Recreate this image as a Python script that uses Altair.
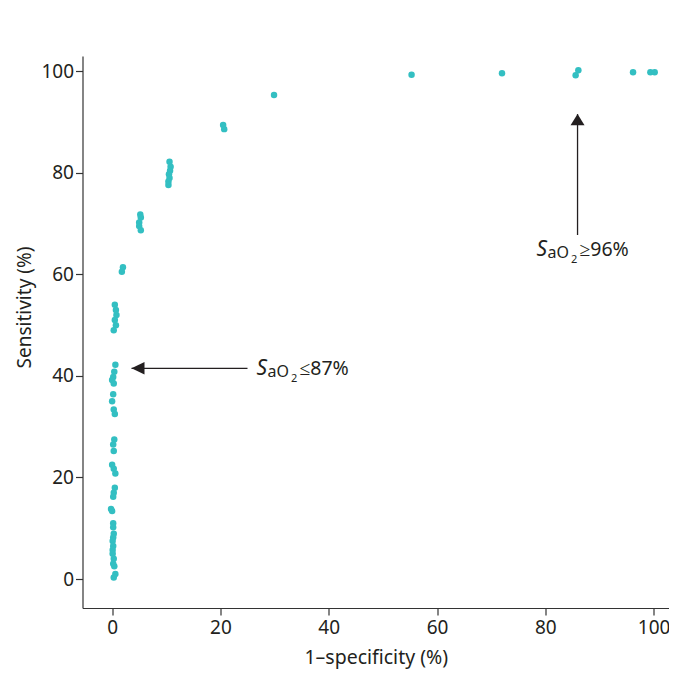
import altair as alt
import pandas as pd

# 1-specificity (%) and sensitivity (%) of each threshold point
fpr = [0.5, 0.7, 0.8, 0.5, 0.7, 0.3,
       0.6, 0.4, 0.2, 0.0, 0.3,
       0.2, 0.0, 0.3, 0.5,
       0.4, 0.2, 0.3,
       0.0, 0.3, 0.6,
       0.5, 0.3, 0.2,
       -0.2, 0.0,
       0.2, 0.2, 0.3, 0.2, 0.1, 0.2, 0.1, 0.1, 0.3, 0.2, 0.4, 0.6, 0.3,
       2.0, 1.8,
       5.2, 5.3, 5.0, 5.0, 5.3,
       10.6, 10.8, 10.7, 10.5, 10.6, 10.4, 10.4,
       20.5, 20.7,
       29.9,
       55.3,
       72.0,
       85.6, 86.1,
       96.2,
       99.4, 100.2]
sens = [54.0, 53.0, 52.0, 51.0, 50.0, 49.0,
        42.2, 40.8, 39.8, 39.2, 38.5,
        36.4, 35.0, 33.4, 32.5,
        27.5, 26.5, 25.2,
        22.5, 21.7, 20.8,
        18.0, 17.0, 16.2,
        13.8, 13.4,
        11.0, 10.2, 8.9, 8.2, 7.5, 6.5, 5.7, 5.0, 4.0, 3.0, 2.5, 1.0, 0.3,
        61.4, 60.5,
        71.8, 71.2, 70.2, 69.5, 68.7,
        82.2, 81.2, 80.4, 79.7, 79.0, 78.3, 77.6,
        89.4, 88.6,
        95.3,
        99.3,
        99.6,
        99.2, 100.2,
        99.8,
        99.8, 99.8]

ticks = [0, 20, 40, 60, 80, 100]

# arrows: tail and tip
arrow_x = [25.0, 85.95]
arrow_y = [41.5, 67.75]
arrow_tip_x = [3.58, 85.95]
arrow_tip_y = [41.5, 91.56]

# annotation labels
ann_x = [26.67, 78.38]
ann_y = [40.2, 63.6]
ann_rest = ["≤87%", "≥96%"]

FONT = "Noto Sans"
TEAL = "#33BFC2"
INK = "#231F20"

df = pd.DataFrame({"fpr": fpr, "sens": sens})
arrows = pd.DataFrame({"x": arrow_x, "y": arrow_y, "x2": arrow_tip_x, "y2": arrow_tip_y})
ann = pd.DataFrame({"x": ann_x, "y": ann_y, "rest": ann_rest})

xs = alt.Scale(domain=[-5.47, 102.84], nice=False, zero=False)
ys = alt.Scale(domain=[-5.7, 103.0], nice=False, zero=False)

points = alt.Chart(df).mark_circle(size=42, color=TEAL, opacity=1).encode(
    x=alt.X("fpr:Q", scale=xs,
            axis=alt.Axis(values=ticks, title="1–specificity (%)", grid=False)),
    y=alt.Y("sens:Q", scale=ys,
            axis=alt.Axis(values=ticks, title="Sensitivity (%)", grid=False,
                          titleX=-48, titleY=251, titleFontSize=19)),
)

lines = alt.Chart(arrows).mark_rule(color=INK, strokeWidth=1.3).encode(
    x=alt.X("x:Q", scale=xs), x2="x2:Q",
    y=alt.Y("y:Q", scale=ys), y2="y2:Q",
)

tip_left = alt.Chart(arrows.iloc[[0]]).mark_point(
    shape="M0,0L2,-0.96L2,0.96Z", size=169, filled=True, color=INK, opacity=1
).encode(x=alt.X("x2:Q", scale=xs), y=alt.Y("y2:Q", scale=ys))

tip_up = alt.Chart(arrows.iloc[[1]]).mark_point(
    shape="M0,0L-1.08,1.7L1.08,1.7Z", size=169, filled=True, color=INK, opacity=1
).encode(x=alt.X("x2:Q", scale=xs), y=alt.Y("y2:Q", scale=ys))

base = alt.Chart(ann).encode(x=alt.X("x:Q", scale=xs), y=alt.Y("y:Q", scale=ys))
t_s = base.mark_text(text="S", font=FONT, fontSize=21, fontStyle="italic",
                     align="left", baseline="alphabetic", color=INK)
t_ao = base.mark_text(text="aO", font=FONT, fontSize=16, align="left",
                      baseline="alphabetic", color=INK, dx=11, dy=2)
t_2 = base.mark_text(text="2", font=FONT, fontSize=11, align="left",
                     baseline="alphabetic", color=INK, dx=34.5, dy=7)
t_rest = base.mark_text(font=FONT, fontSize=19.5, align="left",
                        baseline="alphabetic", color=INK, dx=43).encode(text="rest:N")

chart = alt.layer(points, lines, tip_left, tip_up, t_s, t_ao, t_2, t_rest).properties(
    width=586.5, height=552,
    autosize=alt.AutoSizeParams(type="none"),
    padding={"left": 74.5, "top": 48, "right": 0, "bottom": 62},
).configure(font=FONT).configure_view(stroke=None).configure_axis(
    domainColor="#333333", tickColor="#333333", domainWidth=1.2, tickWidth=1.2,
    tickSize=7, labelFont=FONT, labelFontSize=19, labelColor=INK,
    titleFont=FONT, titleFontSize=19.5, titleColor=INK, titleFontWeight="normal",
).configure_axisY(labelPadding=2).configure_axisX(labelPadding=3, titlePadding=11)

chart.save("out.html", embed_options={"renderer": "svg", "actions": False})
